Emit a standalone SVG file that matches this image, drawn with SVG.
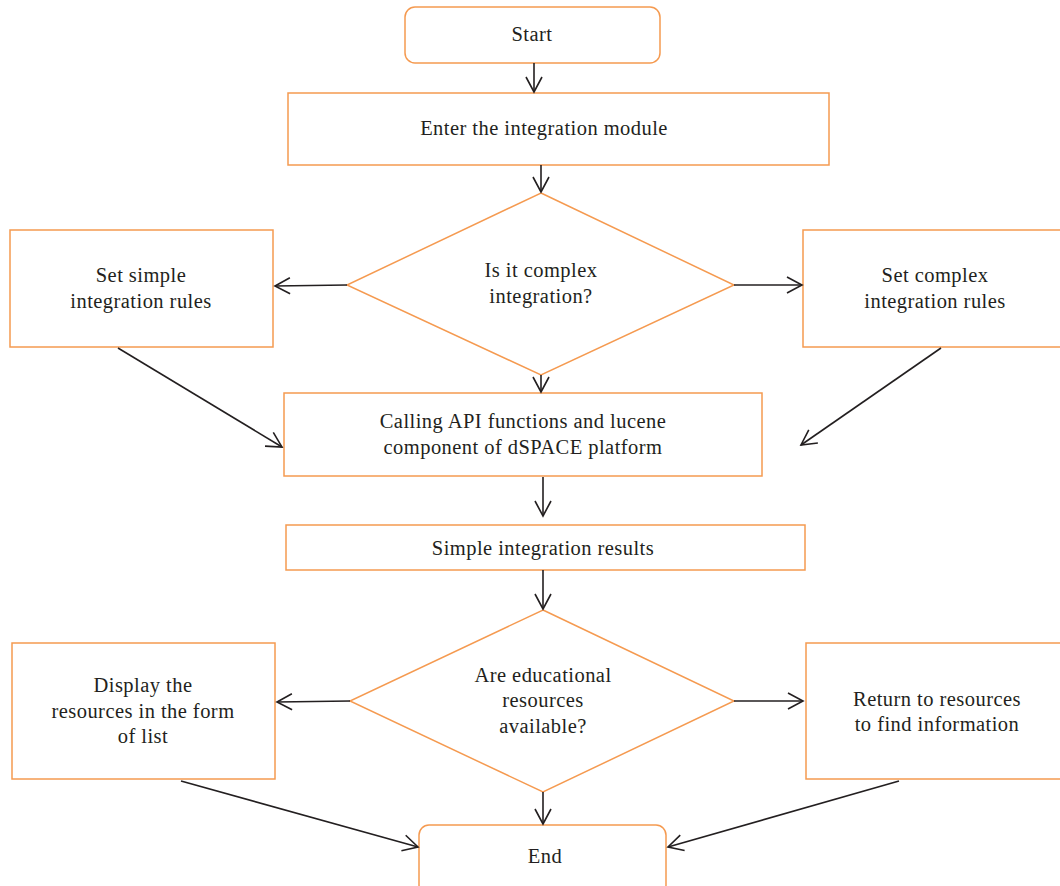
<svg xmlns="http://www.w3.org/2000/svg" width="1060" height="886" viewBox="0 0 1060 886">
<defs>
<style>
.box{fill:#fff;stroke:#F59A50;stroke-width:1.5}
.t{font-family:"Liberation Serif",serif;font-size:20.5px;letter-spacing:0.45px;fill:#231f20;text-anchor:middle}
.c{stroke:#231f20;stroke-width:1.6;fill:none;marker-end:url(#ah)}
</style>
<marker id="ah" viewBox="0 0 20 20" refX="18" refY="10" markerWidth="20" markerHeight="20" markerUnits="userSpaceOnUse" orient="auto">
<path d="M3,2 L18,10 L3,18" fill="none" stroke="#231f20" stroke-width="1.6"/>
</marker>
</defs>
<rect width="1060" height="886" fill="#fff"/>
<g id="start"><rect class="box" x="405" y="7" width="255" height="56" rx="10"/><text class="t" x="532" y="41">Start</text></g>
<g id="enter"><rect class="box" x="288" y="93" width="541" height="72"/><text class="t" x="544" y="135">Enter the integration module</text></g>
<g id="d1"><polygon class="box" points="541,193 734,285 541,375 347,285"/><text class="t" x="541" y="277">Is it complex</text><text class="t" x="541" y="303">integration?</text></g>
<g id="simple"><rect class="box" x="10" y="230" width="263" height="117"/><text class="t" x="141" y="282">Set simple</text><text class="t" x="141" y="308">integration rules</text></g>
<g id="complex"><rect class="box" x="803" y="230" width="260" height="117"/><text class="t" x="935" y="282">Set complex</text><text class="t" x="935" y="308">integration rules</text></g>
<g id="calling"><rect class="box" x="284" y="393" width="478" height="83"/><text class="t" x="523" y="428">Calling API functions and lucene</text><text class="t" x="523" y="454">component of dSPACE platform</text></g>
<g id="results"><rect class="box" x="286" y="525" width="519" height="45"/><text class="t" x="543" y="555">Simple integration results</text></g>
<g id="d2"><polygon class="box" points="543,610 734,701 543,792 350,701"/><text class="t" x="543" y="682">Are educational</text><text class="t" x="543" y="707">resources</text><text class="t" x="543" y="733">available?</text></g>
<g id="display"><rect class="box" x="12" y="643" width="263" height="136"/><text class="t" x="143" y="692">Display the</text><text class="t" x="143" y="718">resources in the form</text><text class="t" x="143" y="743">of list</text></g>
<g id="return"><rect class="box" x="806" y="643" width="257" height="136"/><text class="t" x="937" y="706">Return to resources</text><text class="t" x="937" y="731">to find information</text></g>
<g id="end"><rect class="box" x="419" y="825" width="247" height="70" rx="10"/><text class="t" x="545" y="863">End</text></g>
<g id="connectors">
<line class="c" x1="534" y1="63" x2="534" y2="92"/>
<line class="c" x1="541" y1="165" x2="541" y2="192"/>
<line class="c" x1="347" y1="285" x2="275" y2="286"/>
<line class="c" x1="734" y1="285" x2="802" y2="285"/>
<line class="c" x1="541" y1="375" x2="541" y2="392"/>
<line class="c" x1="118" y1="348" x2="282" y2="447"/>
<line class="c" x1="941" y1="348" x2="801" y2="445"/>
<line class="c" x1="543" y1="477" x2="543" y2="516"/>
<line class="c" x1="543" y1="570" x2="543" y2="609"/>
<line class="c" x1="350" y1="701" x2="277" y2="702"/>
<line class="c" x1="734" y1="701" x2="803" y2="701"/>
<line class="c" x1="543" y1="792" x2="543" y2="824"/>
<line class="c" x1="181" y1="781" x2="418" y2="847"/>
<line class="c" x1="899" y1="781" x2="668" y2="847"/>
</g>
</svg>
